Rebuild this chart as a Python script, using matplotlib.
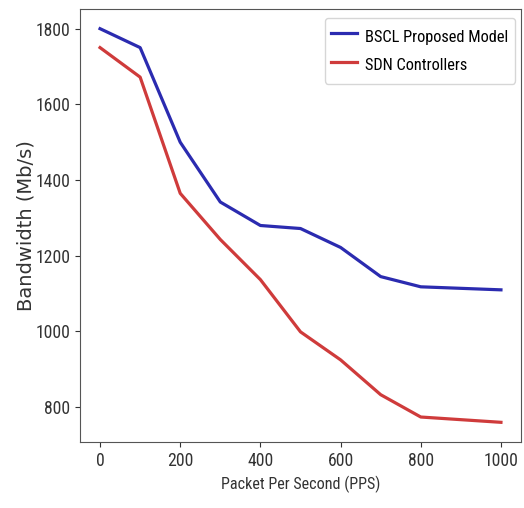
import matplotlib
matplotlib.use("Agg")
import matplotlib.pyplot as plt

pps = [0, 100, 200, 300, 400, 500, 600, 700, 800, 900, 1000]
bscl = [1800, 1750, 1500, 1342, 1280, 1272, 1222, 1145, 1118, 1114, 1110]
sdn = [1750, 1672, 1365, 1243, 1137, 999, 925, 833, 774, 767, 760]
xticks = [0, 200, 400, 600, 800, 1000]
yticks = [800, 1000, 1200, 1400, 1600, 1800]

narrow = ["Roboto Condensed", "Archivo Narrow", "PT Sans Narrow", "Asap Condensed", "Liberation Sans", "DejaVu Sans"]
plt.rcParams["font.family"] = narrow
txt = "#333333"

fig = plt.figure(figsize=(5.24, 5.08), dpi=100)
ax = fig.add_axes([80/524, 66/508, 441/524, 433/508])
ax.plot(pps, bscl, color="#2b2bb0", lw=2.3, label="BSCL Proposed Model")
ax.plot(pps, sdn, color="#cf3b3b", lw=2.3, label="SDN Controllers")
ax.set_xticks(xticks)
ax.set_yticks(yticks)
ax.set_xlabel("Packet Per Second (PPS)", fontsize=11.6, color=txt, labelpad=4)
ax.set_ylabel("Bandwidth (Mb/s)", fontsize=14, color=txt, family=["DejaVu Sans"], labelpad=0)
ax.tick_params(labelsize=12.7, colors=txt)
for s in ax.spines.values():
    s.set_color("#555555")
leg = ax.legend(loc="upper right", bbox_to_anchor=(0.986, 0.979), borderaxespad=0,
                fontsize=11.8, handlelength=1.55, handleheight=1.85, handletextpad=0.5,
                borderpad=0.4, labelspacing=0.3)
fig.savefig("out.png", dpi=100)
